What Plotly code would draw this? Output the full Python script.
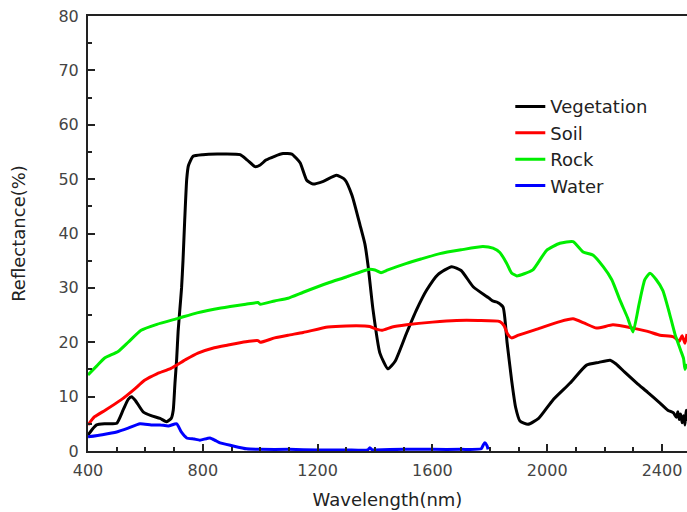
import plotly.graph_objects as go

# ---- data ----
veg_x = [400, 415, 430, 460, 500, 522, 540, 552, 565, 592, 620, 651, 674, 690, 697, 703, 709, 714, 720, 726,
         731, 737, 744, 750, 766, 800, 850, 930, 955, 982, 1000, 1020, 1050, 1080, 1110, 1139, 1162, 1184,
         1220, 1266, 1295, 1320, 1348, 1365, 1376, 1393, 1417, 1445, 1470, 1510, 1545, 1580, 1620, 1667,
         1700, 1742, 1789, 1800, 1810, 1824, 1846, 1860, 1876, 1890, 1905, 1933, 1970, 2020, 2080, 2137,
         2180, 2219, 2240, 2270, 2312, 2350, 2393, 2420, 2440, 2450, 2455, 2460, 2465, 2470, 2475, 2480,
         2484, 2487]
veg_y = [2.9, 4.0, 4.8, 5.0, 5.1, 7.5, 9.5, 10.0, 9.3, 7.2, 6.5, 6.0, 5.4, 6.0, 7.5, 12.5, 17, 22, 26, 30,
         35, 42.5, 50, 52.5, 54.2, 54.5, 54.6, 54.5, 53.5, 52.3, 52.6, 53.5, 54.2, 54.7, 54.6, 53.0, 49.8, 49.1,
         49.6, 50.7, 49.9, 47, 41.5, 38, 34, 26, 18, 15.1, 16.5, 21.7, 26, 29.6, 32.5, 33.9,
         33.2, 30.2, 28.4, 28.0, 27.6, 27.4, 26.5, 20, 13, 8, 5.5, 4.9, 6.0, 9.4, 12.5, 15.8,
         16.3, 16.7, 16.0, 14.5, 12.5, 10.8, 8.8, 7.5, 7.0, 6.2, 7.2, 5.8, 6.8, 5.2, 6.5, 4.8,
         7.5, 5.5]

soil_x = [400, 423, 460, 515, 560, 597, 640, 689, 740, 783, 840, 888, 950, 992, 1000, 1050, 1097, 1150, 1236,
          1300, 1382, 1400, 1423, 1460, 1510, 1600, 1684, 1760, 1835, 1850, 1862, 1876, 1900, 1975, 2044,
          2090, 2130, 2172, 2229, 2299, 2350, 2393, 2440, 2460, 2470, 2480, 2487]
soil_y = [4.8, 6.3, 7.5, 9.4, 11.3, 13.0, 14.2, 15.2, 16.8, 18.0, 19.0, 19.5, 20.1, 20.3, 20.0, 20.8, 21.3,
          21.8, 22.8, 23.0, 22.9, 22.5, 22.2, 22.8, 23.2, 23.7, 24.0, 24.0, 23.8, 23.0, 21.5, 20.8, 21.3,
          22.6, 23.8, 24.3, 23.5, 22.6, 23.2, 22.6, 22.0, 21.3, 21.0, 20.2, 21.2, 19.8, 21.5]

rock_x = [400, 430, 458, 505, 540, 585, 640, 714, 780, 863, 950, 992, 1000, 1050, 1097, 1150, 1236, 1300,
          1376, 1400, 1421, 1445, 1510, 1560, 1626, 1700, 1776, 1811, 1835, 1859, 1875, 1894, 1920, 1950,
          1998, 2044, 2090, 2125, 2160, 2195, 2225, 2253, 2280, 2299, 2320, 2340, 2358, 2380, 2403, 2425,
          2445, 2465, 2475, 2480, 2487]
rock_y = [14.0, 15.6, 17.1, 18.3, 20.0, 22.2, 23.3, 24.4, 25.4, 26.3, 27.0, 27.3, 27.0, 27.6, 28.1, 29.2,
          30.9, 32.0, 33.4, 33.3, 32.8, 33.3, 34.5, 35.3, 36.3, 37.0, 37.6, 37.3, 36.5, 34.5, 32.8, 32.2,
          32.6, 33.3, 36.9, 38.2, 38.5, 36.6, 36.0, 33.9, 31.5, 27.8, 24.5, 21.9, 27.0, 31.5, 32.7, 31.5,
          29.5, 25.5, 21.5, 18.5, 17.0, 15.0, 16.0]

water_x = [400, 450, 500, 540, 581, 620, 651, 680, 709, 725, 744, 770, 790, 825, 845, 860, 900, 953, 1000,
           1100, 1200, 1300, 1375, 1382, 1390, 1400, 1500, 1600, 1700, 1770, 1778, 1783, 1790, 1794]
water_y = [2.6, 3.0, 3.5, 4.2, 5.0, 4.8, 4.8, 4.6, 5.0, 3.5, 2.4, 2.2, 2.0, 2.4, 1.9, 1.5, 1.0, 0.4, 0.3,
           0.3, 0.2, 0.2, 0.2, 0.6, 0.2, 0.2, 0.3, 0.3, 0.3, 0.4, 1.2, 1.5, 1.0, 0.3]

series = [
    ("Vegetation", veg_x, veg_y, "#000000"),
    ("Soil", soil_x, soil_y, "#ff0000"),
    ("Rock", rock_x, rock_y, "#00ee00"),
    ("Water", water_x, water_y, "#0000ff"),
]

fig = go.Figure()
for name, xs, ys, col in series:
    fig.add_trace(go.Scatter(x=xs, y=ys, mode="lines", name=name, legendgroup=name,
                             line=dict(color=col, width=3, shape="spline", smoothing=0.5)))

font_family = "DejaVu Sans, Verdana, sans-serif"
fig.update_layout(
    width=687, height=512,
    margin=dict(l=88, r=0, t=16, b=61),
    plot_bgcolor="white", paper_bgcolor="white",
    font=dict(family=font_family, color="#444444"),
    showlegend=True,
    legend=dict(x=0.705, y=0.834, xanchor="left", yanchor="top",
                font=dict(size=18, color="#222222", family=font_family),
                bgcolor="rgba(0,0,0,0)", tracegroupgap=0),
    xaxis=dict(range=[400, 2487], tick0=400, dtick=400, ticks="inside", ticklen=7, tickwidth=1.5,
               tickcolor="#222222", showline=True, linecolor="#222222", linewidth=2, mirror=True,
               showgrid=False, zeroline=False, automargin=False, ticklabelstandoff=4,
               ticklabeloverflow="allow",
               tickfont=dict(size=16, color="#444444"),
               minor=dict(dtick=100, ticks="inside", ticklen=4, tickwidth=1.5, tickcolor="#222222"),
               title=dict(text="Wavelength(nm)", font=dict(size=18, color="#222222"), standoff=14)),
    yaxis=dict(range=[0, 80], tick0=0, dtick=10, ticks="inside", ticklen=7, tickwidth=1.5,
               tickcolor="#222222", showline=True, linecolor="#222222", linewidth=2,
               showgrid=False, zeroline=False, automargin=False, ticklabelstandoff=4,
               ticklabeloverflow="allow",
               tickfont=dict(size=16, color="#444444"),
               minor=dict(dtick=5, ticks="inside", ticklen=4, tickwidth=1.5, tickcolor="#222222"),
               title=dict(text="Reflectance(%)", font=dict(size=18, color="#222222"), standoff=28)),
)

fig.write_html("out.html", config={"displayModeBar": False},
               post_script="document.body.style.margin='0';document.body.style.overflow='hidden';")
